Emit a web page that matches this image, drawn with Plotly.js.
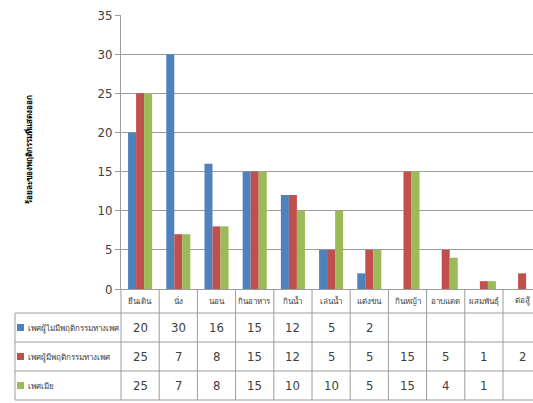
<!DOCTYPE html>
<html><head><meta charset="utf-8">
<script src="https://cdn.plot.ly/plotly-3.0.1.min.js"></script>
<style>html,body{margin:0;padding:0;background:#fff;}#chart{width:533px;height:403px;}</style>
</head><body><div id="chart"></div>
<script>
const categories = ["ยืนเดิน","นั่ง","นอน","กินอาหาร","กินน้ำ","เล่นน้ำ","แต่งขน","กินหญ้า","อาบแดด","ผสมพันธุ์","ต่อสู้"];
const seriesNames = ["เพศผู้ไม่มีพฤติกรรมทางเพศ","เพศผู้มีพฤติกรรมทางเพศ","เพศเมีย"];
const maleNoSex = [20,30,16,15,12,5,2,null,null,null,null];
const maleSex = [25,7,8,15,12,5,5,15,5,1,2];
const female = [25,7,8,15,10,10,5,15,4,1,null];
const yTicks = [0,5,10,15,20,25,30,35];
const yTitle = "ร้อยละของพฤติกรรมที่แสดงออก";

const colors = ["#4F81BD","#C0504D","#9BBB59"];
const series = [maleNoSex, maleSex, female];

const W=533,H=403, L=121, R=533, T=15, B=289;
const px = X => (X-L)/(R-L);
const py = Y => (B-Y)/(B-T);
const grid = "#9C9C9C";
const condensed = "DejaVu Sans Condensed, Liberation Sans Narrow, sans-serif";
const numFont = {family:condensed, size:13, color:"#404040"};
const thaiFont = {family:"Noto Sans, sans-serif", size:8, color:"#404040"};

const traces = series.map((s,i)=>({
  type:"bar", x:categories, y:s, name:seriesNames[i],
  marker:{color:colors[i]}, hoverinfo:"none"
}));

const shapes=[], annotations=[];
const rowY = [[313,342],[342,371],[371,400]];
[313,342,371,400].forEach(Y=>shapes.push({type:"line",xref:"paper",yref:"paper",x0:px(15),x1:1.05,y0:py(Y),y1:py(Y),line:{color:grid,width:1}}));
shapes.push({type:"line",xref:"paper",yref:"paper",x0:px(15),x1:px(15),y0:py(313),y1:py(400),line:{color:grid,width:1}});
shapes.push({type:"line",xref:"paper",yref:"paper",x0:0,x1:0,y0:py(289),y1:py(400),line:{color:grid,width:1}});
categories.forEach((c,i)=>{
  shapes.push({type:"line",xref:"x",yref:"paper",x0:i+0.5,x1:i+0.5,y0:py(289),y1:py(400),line:{color:grid,width:1}});
  annotations.push({xref:"x",yref:"paper",x:i,y:py(300),text:c,showarrow:false,font:thaiFont,xanchor:"center",yanchor:"middle"});
});
series.forEach((s,r)=>{
  const yc = py((rowY[r][0]+rowY[r][1])/2);
  shapes.push({type:"rect",xref:"paper",yref:"paper",x0:px(17),x1:px(24),y0:yc-3.5/(B-T),y1:yc+3.5/(B-T),fillcolor:colors[r],line:{width:0}});
  annotations.push({xref:"paper",yref:"paper",x:px(26),y:yc,text:seriesNames[r],showarrow:false,font:thaiFont,xanchor:"left",yanchor:"middle"});
  s.forEach((v,i)=>{
    if(v!==null) annotations.push({xref:"x",yref:"paper",x:i,y:yc,text:String(v),showarrow:false,font:numFont,xanchor:"center",yanchor:"middle"});
  });
});
annotations.push({xref:"paper",yref:"paper",x:px(28),y:py(150),text:"<b>"+yTitle+"</b>",textangle:-90,showarrow:false,font:{family:"Noto Sans, sans-serif",size:8,color:"#000"},xanchor:"center",yanchor:"middle"});

const layout = {
  width:W,height:H,
  margin:{l:L,r:W-R,t:T,b:H-B,pad:0},
  paper_bgcolor:"#fff",plot_bgcolor:"#fff",
  showlegend:false,
  barmode:"group", bargap:0.37, bargroupgap:0,
  xaxis:{type:"category",range:[-0.5,-0.5+(R-L)/38.2],showticklabels:false,ticks:"",showgrid:false,showline:true,linecolor:grid,linewidth:1,zeroline:false,fixedrange:true},
  yaxis:{range:[0,35],tickvals:yTicks,ticktext:yTicks.map(String),ticks:"outside",ticklen:5,tickcolor:grid,showgrid:true,gridcolor:grid,gridwidth:1,showline:true,linecolor:grid,linewidth:1,zeroline:false,tickfont:{family:condensed,size:13,color:"#404040"},fixedrange:true},
  shapes:shapes, annotations:annotations
};
Plotly.newPlot("chart",traces,layout,{staticPlot:true,displayModeBar:false});
</script></body></html>
